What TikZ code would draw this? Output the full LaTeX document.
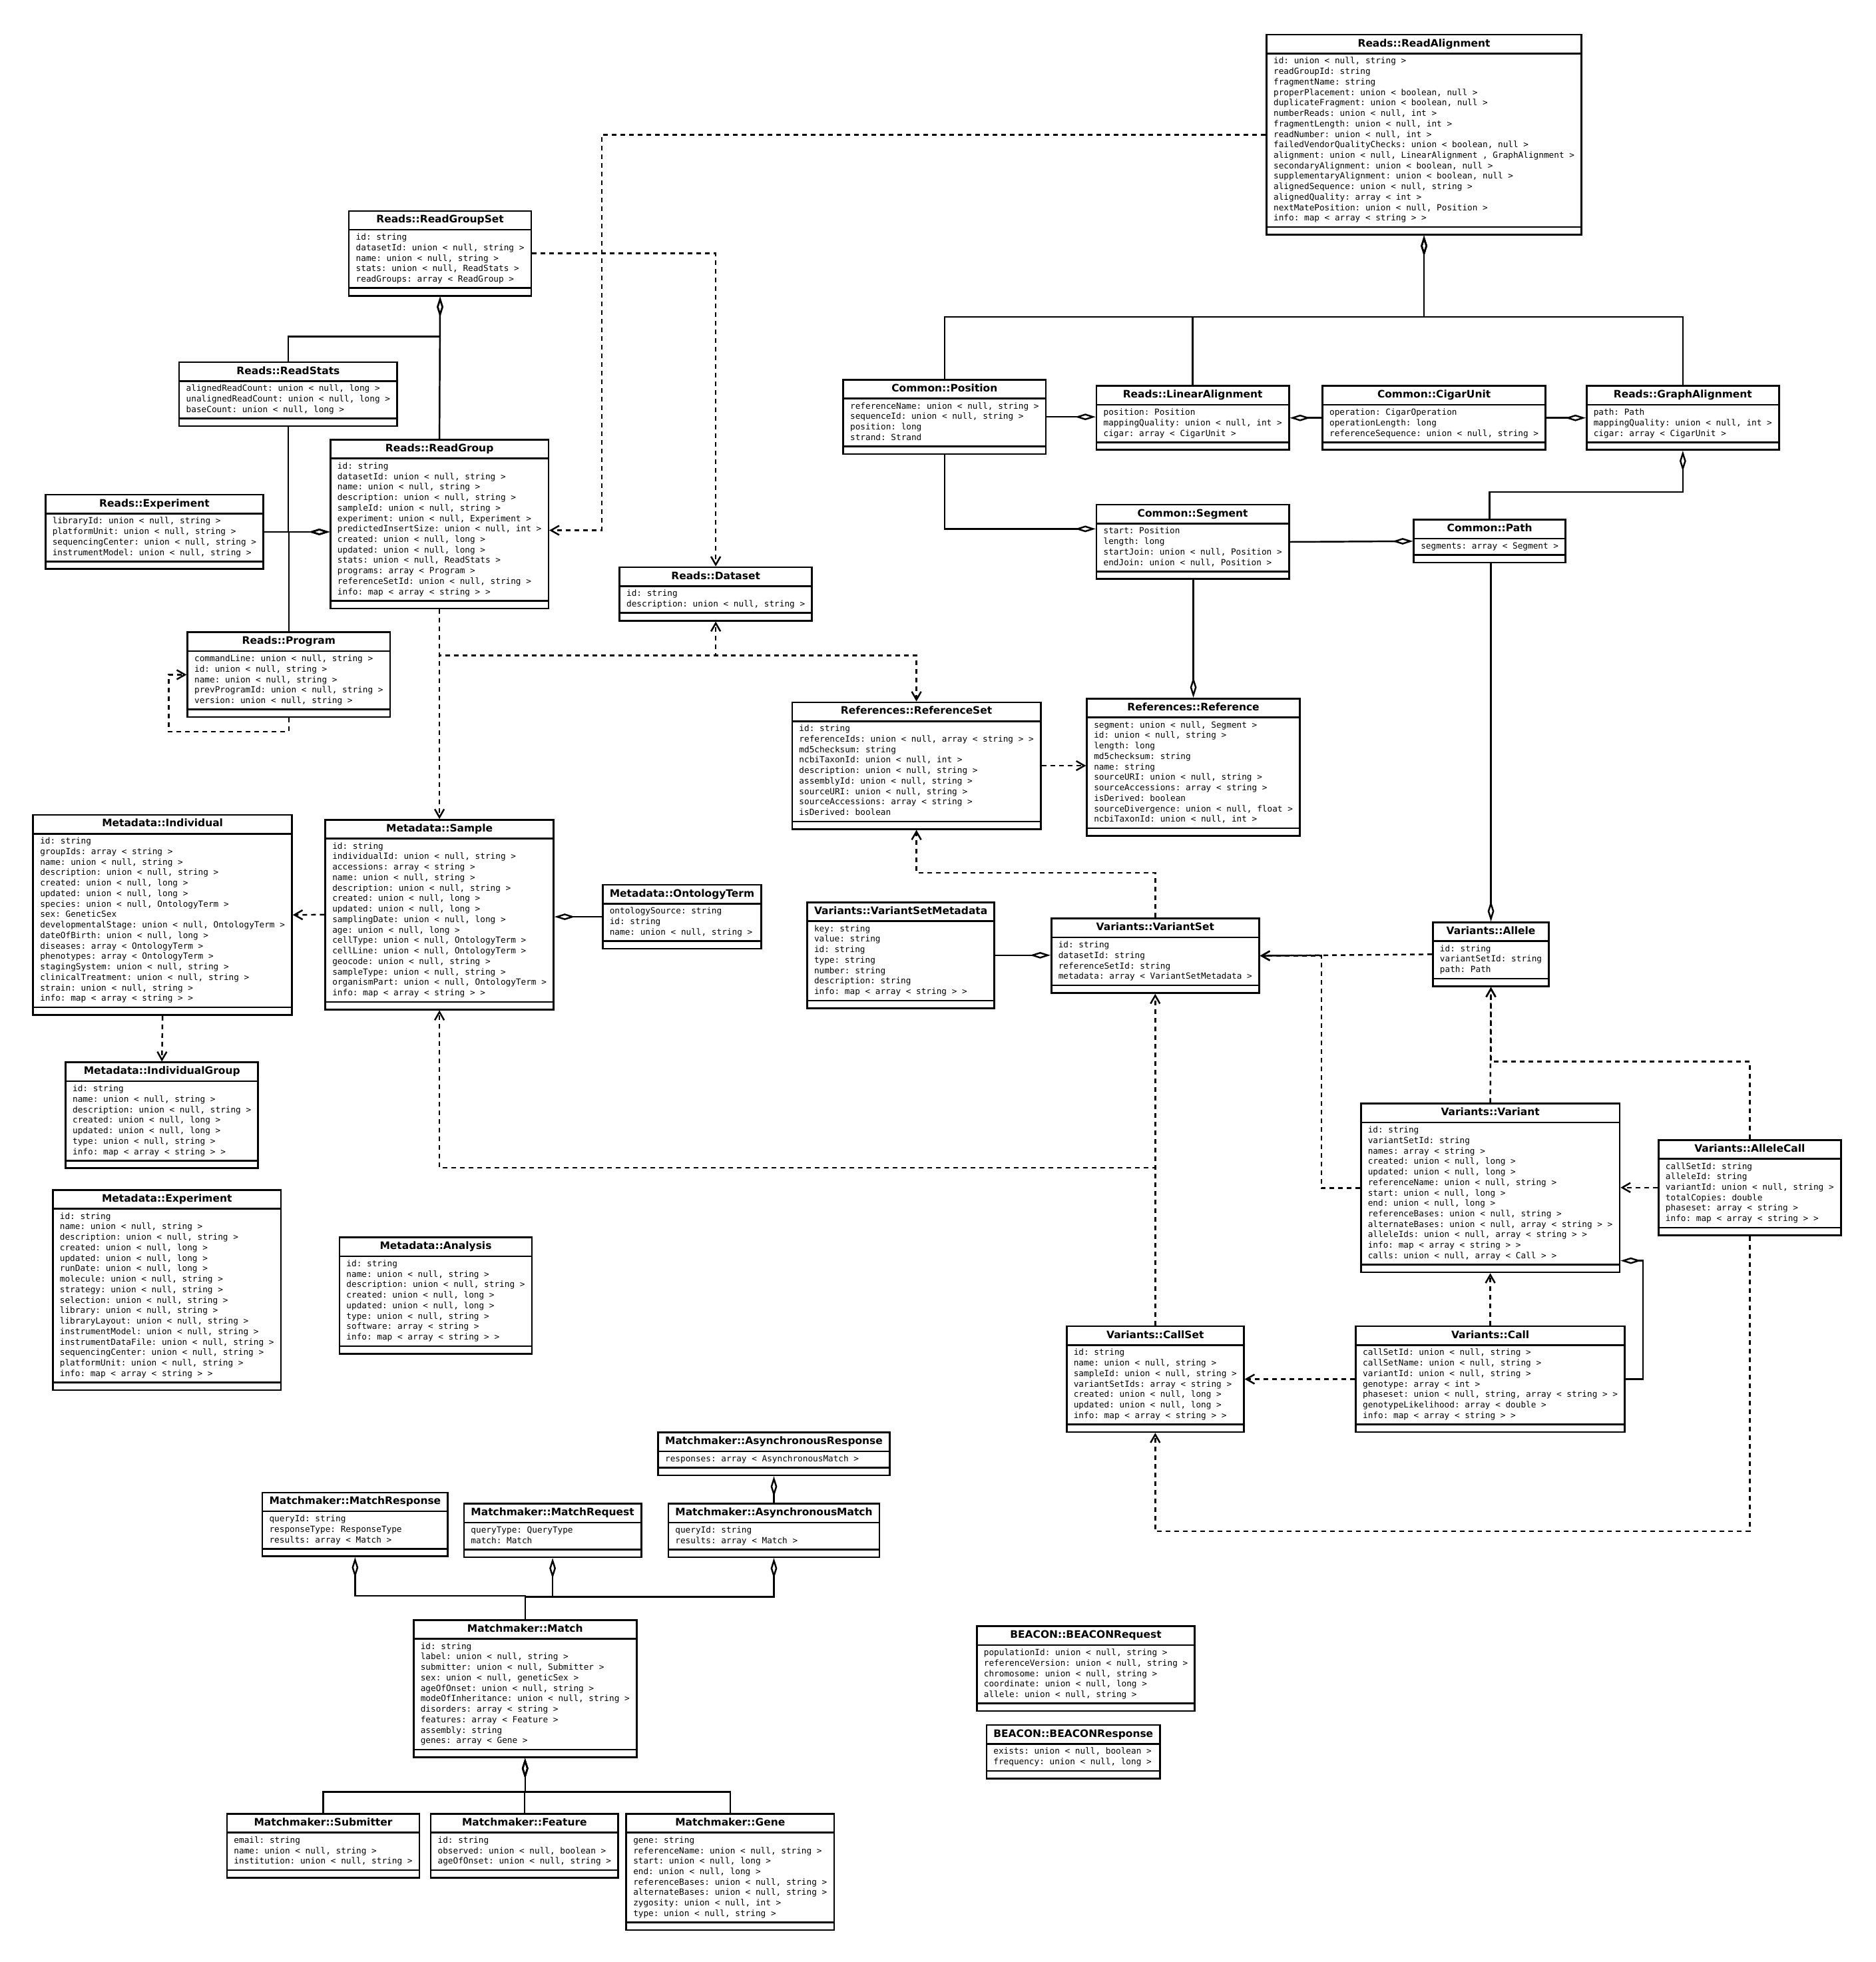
\documentclass[tikz,border=0pt]{standalone}
\usepackage{fontspec}
\setmainfont{DejaVu Sans}
\setmonofont{DejaVu Sans Mono}
\usetikzlibrary{shapes.multipart, arrows.meta, calc}

\newcommand{\classname}[1]{{\bfseries\fontsize{4.4}{5.5}\selectfont\strut#1}}
\newcommand{\classattrs}[1]{{\ttfamily\fontsize{3.62}{4.48}\selectfont\begin{tabular}{@{}l@{}}#1\end{tabular}}}
\newcommand{\noops}{\rule{0pt}{0.7pt}\hspace*{1pt}}

\begin{document}
\begin{tikzpicture}[x=0.01878cm, y=-0.01878cm,
	umlclass/.style={draw, line width=0.75pt, anchor=north, rectangle split, rectangle split parts=3,
		rectangle split part align={center,left,left}, inner xsep=3pt, inner ysep=0.9pt},
	agg/.style={line width=0.7pt, arrows={Diamond[open,length=8.8pt,width=2.8pt]-}},
	dep/.style={line width=0.7pt, dash pattern=on 2pt off 1.7pt, arrows={-Straight Barb[length=3.5pt,width=4pt]}}]
	\path[use as bounding box, fill=white] (0,0) rectangle (1500,1569.2);

	\node[umlclass] (readalign) at (1139,27) {\classname{Reads::ReadAlignment}\nodepart{two}\classattrs{id: union < null, string >\\ readGroupId: string\\ fragmentName: string\\ properPlacement: union < boolean, null >\\ duplicateFragment: union < boolean, null >\\ numberReads: union < null, int >\\ fragmentLength: union < null, int >\\ readNumber: union < null, int >\\ failedVendorQualityChecks: union < boolean, null >\\ alignment: union < null, LinearAlignment , GraphAlignment >\\ secondaryAlignment: union < boolean, null >\\ supplementaryAlignment: union < boolean, null >\\ alignedSequence: union < null, string >\\ alignedQuality: array < int >\\ nextMatePosition: union < null, Position >\\ info: map < array < string > >}\nodepart{three}\noops};
	\node[umlclass] (readgroupset) at (352,168) {\classname{Reads::ReadGroupSet}\nodepart{two}\classattrs{id: string\\ datasetId: union < null, string >\\ name: union < null, string >\\ stats: union < null, ReadStats >\\ readGroups: array < ReadGroup >}\nodepart{three}\noops};
	\node[umlclass] (readstats) at (230.5,289) {\classname{Reads::ReadStats}\nodepart{two}\classattrs{alignedReadCount: union < null, long >\\ unalignedReadCount: union < null, long >\\ baseCount: union < null, long >}\nodepart{three}\noops};
	\node[umlclass] (readgroup) at (351.5,351) {\classname{Reads::ReadGroup}\nodepart{two}\classattrs{id: string\\ datasetId: union < null, string >\\ name: union < null, string >\\ description: union < null, string >\\ sampleId: union < null, string >\\ experiment: union < null, Experiment >\\ predictedInsertSize: union < null, int >\\ created: union < null, long >\\ updated: union < null, long >\\ stats: union < null, ReadStats >\\ programs: array < Program >\\ referenceSetId: union < null, string >\\ info: map < array < string > >}\nodepart{three}\noops};
	\node[umlclass] (experiment) at (123.5,395) {\classname{Reads::Experiment}\nodepart{two}\classattrs{libraryId: union < null, string >\\ platformUnit: union < null, string >\\ sequencingCenter: union < null, string >\\ instrumentModel: union < null, string >}\nodepart{three}\noops};
	\node[umlclass] (program) at (231,505) {\classname{Reads::Program}\nodepart{two}\classattrs{commandLine: union < null, string >\\ id: union < null, string >\\ name: union < null, string >\\ prevProgramId: union < null, string >\\ version: union < null, string >}\nodepart{three}\noops};
	\node[umlclass] (dataset) at (572.5,453) {\classname{Reads::Dataset}\nodepart{two}\classattrs{id: string\\ description: union < null, string >}\nodepart{three}\noops};
	\node[umlclass] (position) at (755.5,303) {\classname{Common::Position}\nodepart{two}\classattrs{referenceName: union < null, string >\\ sequenceId: union < null, string >\\ position: long\\ strand: Strand}\nodepart{three}\noops};
	\node[umlclass] (linalign) at (954,308) {\classname{Reads::LinearAlignment}\nodepart{two}\classattrs{position: Position\\ mappingQuality: union < null, int >\\ cigar: array < CigarUnit >}\nodepart{three}\noops};
	\node[umlclass] (cigarunit) at (1147,308) {\classname{Common::CigarUnit}\nodepart{two}\classattrs{operation: CigarOperation\\ operationLength: long\\ referenceSequence: union < null, string >}\nodepart{three}\noops};
	\node[umlclass] (graphalign) at (1346,308) {\classname{Reads::GraphAlignment}\nodepart{two}\classattrs{path: Path\\ mappingQuality: union < null, int >\\ cigar: array < CigarUnit >}\nodepart{three}\noops};
	\node[umlclass] (segment) at (954,403) {\classname{Common::Segment}\nodepart{two}\classattrs{start: Position\\ length: long\\ startJoin: union < null, Position >\\ endJoin: union < null, Position >}\nodepart{three}\noops};
	\node[umlclass] (path) at (1191.5,415) {\classname{Common::Path}\nodepart{two}\classattrs{segments: array < Segment >}\nodepart{three}\noops};
	\node[umlclass] (referenceset) at (733,561) {\classname{References::ReferenceSet}\nodepart{two}\classattrs{id: string\\ referenceIds: union < null, array < string > >\\ md5checksum: string\\ ncbiTaxonId: union < null, int >\\ description: union < null, string >\\ assemblyId: union < null, string >\\ sourceURI: union < null, string >\\ sourceAccessions: array < string >\\ isDerived: boolean}\nodepart{three}\noops};
	\node[umlclass] (reference) at (954.5,558) {\classname{References::Reference}\nodepart{two}\classattrs{segment: union < null, Segment >\\ id: union < null, string >\\ length: long\\ md5checksum: string\\ name: string\\ sourceURI: union < null, string >\\ sourceAccessions: array < string >\\ isDerived: boolean\\ sourceDivergence: union < null, float >\\ ncbiTaxonId: union < null, int >}\nodepart{three}\noops};
	\node[umlclass] (individual) at (130,651) {\classname{Metadata::Individual}\nodepart{two}\classattrs{id: string\\ groupIds: array < string >\\ name: union < null, string >\\ description: union < null, string >\\ created: union < null, long >\\ updated: union < null, long >\\ species: union < null, OntologyTerm >\\ sex: GeneticSex\\ developmentalStage: union < null, OntologyTerm >\\ dateOfBirth: union < null, long >\\ diseases: array < OntologyTerm >\\ phenotypes: array < OntologyTerm >\\ stagingSystem: union < null, string >\\ clinicalTreatment: union < null, string >\\ strain: union < null, string >\\ info: map < array < string > >}\nodepart{three}\noops};
	\node[umlclass] (sample) at (351.5,655) {\classname{Metadata::Sample}\nodepart{two}\classattrs{id: string\\ individualId: union < null, string >\\ accessions: array < string >\\ name: union < null, string >\\ description: union < null, string >\\ created: union < null, long >\\ updated: union < null, long >\\ samplingDate: union < null, long >\\ age: union < null, long >\\ cellType: union < null, OntologyTerm >\\ cellLine: union < null, OntologyTerm >\\ geocode: union < null, string >\\ sampleType: union < null, string >\\ organismPart: union < null, OntologyTerm >\\ info: map < array < string > >}\nodepart{three}\noops};
	\node[umlclass] (ontology) at (545.5,707) {\classname{Metadata::OntologyTerm}\nodepart{two}\classattrs{ontologySource: string\\ id: string\\ name: union < null, string >}\nodepart{three}\noops};
	\node[umlclass] (indgroup) at (129.5,849) {\classname{Metadata::IndividualGroup}\nodepart{two}\classattrs{id: string\\ name: union < null, string >\\ description: union < null, string >\\ created: union < null, long >\\ updated: union < null, long >\\ type: union < null, string >\\ info: map < array < string > >}\nodepart{three}\noops};
	\node[umlclass] (mexperiment) at (133.5,951) {\classname{Metadata::Experiment}\nodepart{two}\classattrs{id: string\\ name: union < null, string >\\ description: union < null, string >\\ created: union < null, long >\\ updated: union < null, long >\\ runDate: union < null, long >\\ molecule: union < null, string >\\ strategy: union < null, string >\\ selection: union < null, string >\\ library: union < null, string >\\ libraryLayout: union < null, string >\\ instrumentModel: union < null, string >\\ instrumentDataFile: union < null, string >\\ sequencingCenter: union < null, string >\\ platformUnit: union < null, string >\\ info: map < array < string > >}\nodepart{three}\noops};
	\node[umlclass] (analysis) at (348.5,989) {\classname{Metadata::Analysis}\nodepart{two}\classattrs{id: string\\ name: union < null, string >\\ description: union < null, string >\\ created: union < null, long >\\ updated: union < null, long >\\ type: union < null, string >\\ software: array < string >\\ info: map < array < string > >}\nodepart{three}\noops};
	\node[umlclass] (vsmeta) at (720.5,721) {\classname{Variants::VariantSetMetadata}\nodepart{two}\classattrs{key: string\\ value: string\\ id: string\\ type: string\\ number: string\\ description: string\\ info: map < array < string > >}\nodepart{three}\noops};
	\node[umlclass] (variantset) at (924,734) {\classname{Variants::VariantSet}\nodepart{two}\classattrs{id: string\\ datasetId: string\\ referenceSetId: string\\ metadata: array < VariantSetMetadata >}\nodepart{three}\noops};
	\node[umlclass] (allele) at (1192.5,737) {\classname{Variants::Allele}\nodepart{two}\classattrs{id: string\\ variantSetId: string\\ path: Path}\nodepart{three}\noops};
	\node[umlclass] (variant) at (1192,882) {\classname{Variants::Variant}\nodepart{two}\classattrs{id: string\\ variantSetId: string\\ names: array < string >\\ created: union < null, long >\\ updated: union < null, long >\\ referenceName: union < null, string >\\ start: union < null, long >\\ end: union < null, long >\\ referenceBases: union < null, string >\\ alternateBases: union < null, array < string > >\\ alleleIds: union < null, array < string > >\\ info: map < array < string > >\\ calls: union < null, array < Call > >}\nodepart{three}\noops};
	\node[umlclass] (allelecall) at (1399.5,911) {\classname{Variants::AlleleCall}\nodepart{two}\classattrs{callSetId: string\\ alleleId: string\\ variantId: union < null, string >\\ totalCopies: double\\ phaseset: array < string >\\ info: map < array < string > >}\nodepart{three}\noops};
	\node[umlclass] (callset) at (924,1060) {\classname{Variants::CallSet}\nodepart{two}\classattrs{id: string\\ name: union < null, string >\\ sampleId: union < null, string >\\ variantSetIds: array < string >\\ created: union < null, long >\\ updated: union < null, long >\\ info: map < array < string > >}\nodepart{three}\noops};
	\node[umlclass] (call) at (1192,1060) {\classname{Variants::Call}\nodepart{two}\classattrs{callSetId: union < null, string >\\ callSetName: union < null, string >\\ variantId: union < null, string >\\ genotype: array < int >\\ phaseset: union < null, string, array < string > >\\ genotypeLikelihood: array < double >\\ info: map < array < string > >}\nodepart{three}\noops};
	\node[umlclass] (asyncresponse) at (619,1145) {\classname{Matchmaker::AsynchronousResponse}\nodepart{two}\classattrs{responses: array < AsynchronousMatch >}\nodepart{three}\noops};
	\node[umlclass] (matchresponse) at (284,1193) {\classname{Matchmaker::MatchResponse}\nodepart{two}\classattrs{queryId: string\\ responseType: ResponseType\\ results: array < Match >}\nodepart{three}\noops};
	\node[umlclass] (matchrequest) at (442,1202) {\classname{Matchmaker::MatchRequest}\nodepart{two}\classattrs{queryType: QueryType\\ match: Match}\nodepart{three}\noops};
	\node[umlclass] (asyncmatch) at (619,1202) {\classname{Matchmaker::AsynchronousMatch}\nodepart{two}\classattrs{queryId: string\\ results: array < Match >}\nodepart{three}\noops};
	\node[umlclass] (match) at (420,1295) {\classname{Matchmaker::Match}\nodepart{two}\classattrs{id: string\\ label: union < null, string >\\ submitter: union < null, Submitter >\\ sex: union < null, geneticSex >\\ ageOfOnset: union < null, string >\\ modeOfInheritance: union < null, string >\\ disorders: array < string >\\ features: array < Feature >\\ assembly: string\\ genes: array < Gene >}\nodepart{three}\noops};
	\node[umlclass] (submitter) at (258.5,1450) {\classname{Matchmaker::Submitter}\nodepart{two}\classattrs{email: string\\ name: union < null, string >\\ institution: union < null, string >}\nodepart{three}\noops};
	\node[umlclass] (feature) at (419.5,1450) {\classname{Matchmaker::Feature}\nodepart{two}\classattrs{id: string\\ observed: union < null, boolean >\\ ageOfOnset: union < null, string >}\nodepart{three}\noops};
	\node[umlclass] (gene) at (584,1450) {\classname{Matchmaker::Gene}\nodepart{two}\classattrs{gene: string\\ referenceName: union < null, string >\\ start: union < null, long >\\ end: union < null, long >\\ referenceBases: union < null, string >\\ alternateBases: union < null, string >\\ zygosity: union < null, int >\\ type: union < null, string >}\nodepart{three}\noops};
	\node[umlclass] (beaconreq) at (868.5,1300) {\classname{BEACON::BEACONRequest}\nodepart{two}\classattrs{populationId: union < null, string >\\ referenceVersion: union < null, string >\\ chromosome: union < null, string >\\ coordinate: union < null, long >\\ allele: union < null, string >}\nodepart{three}\noops};
	\node[umlclass] (beaconresp) at (858.5,1379) {\classname{BEACON::BEACONResponse}\nodepart{two}\classattrs{exists: union < null, boolean >\\ frequency: union < null, long >}\nodepart{three}\noops};

	\foreach \i in {position,linalign,graphalign} {\draw[agg] (readalign.south) -- ++(0,65) -| (\i.north);}
	\draw[agg] (linalign.west |- position.east) -- (position.east);
	\draw[agg] (linalign.east) -- (cigarunit.west);
	\draw[agg] (graphalign.west) -- (cigarunit.east);
	\draw[agg] ($(segment.north west)+(0,20)$) -| (position.south);
	\draw[agg] (path.west) -- (segment.east);
	\draw[agg] (graphalign.south) -- ++(0,33) -| (path.north);
	\draw[agg] (reference.north) -- (reference.north |- segment.south);
	\draw[agg] (allele.north) -- (allele.north |- path.south);
	\draw[agg] (readgroupset.south) -- (readgroup.north);
	\draw[agg] (readgroupset.south) -- ++(0,32) -| (readstats.north);
	\draw[agg] (readgroup.west |- experiment.east) -- (experiment.east);
	\draw[agg] (readgroup.west |- experiment.east) -| (readstats.south);
	\draw[agg] (readgroup.west |- experiment.east) -| (program.north);
	\draw[agg] (sample.east |- ontology.west) -- (ontology.west);
	\draw[agg] (variantset.west |- vsmeta.east) -- (vsmeta.east);
	\draw[agg] ($(variant.south east)+(0,-10)$) -- ++(18,0) |- (call.east);
	\draw[agg] (asyncresponse.south) -- (asyncmatch.north);
	\foreach \i in {matchresponse,matchrequest,asyncmatch} {\draw[agg] (\i.south) -- ++(0,31) -| (match.north);}
	\foreach \i in {submitter,feature,gene} {\draw[agg] (match.south) -- ++(0,27) -| (\i.north);}

	\draw[dep] (readalign.west) -- ++(-531,0) |- ($(readgroup.east)+(0,5)$);
	\draw[dep] (readgroupset.east) -| (dataset.north);
	\draw[dep] (readgroup.south) -- (sample.north);
	\draw[dep] (readgroup.south) -- ++(0,37) -| (dataset.south);
	\draw[dep] (readgroup.south) -- ++(0,37) -| (referenceset.north);
	\draw[dep] (program.south) -- ++(0,11) -- ++(-96,0) |- (program.west);
	\draw[dep] (referenceset.east) -- (reference.west |- referenceset.east);
	\draw[dep] (variantset.north) -- ++(0,-36) -| (referenceset.south);
	\draw[dep] (sample.west) -- (individual.east);
	\draw[dep] (individual.south) -- (indgroup.north);
	\draw[dep] (callset.north) -- (variantset.south);
	\draw[dep] (callset.north) -- ++(0,-126) -| (sample.south);
	\draw[dep] (allele.west) -- (variantset.east);
	\draw[dep] (variant.west) -- ++(-31,0) |- (variantset.east);
	\draw[dep] (variant.north) -- (allele.south);
	\draw[dep] (allelecall.north) -- ++(0,-62) -| (allele.south);
	\draw[dep] (allelecall.west) -- (variant.east |- allelecall.west);
	\draw[dep] (call.north) -- (variant.south);
	\draw[dep] (call.west) -- (callset.east);
	\draw[dep] (allelecall.south) -- ++(0,236) -| (callset.south);
\end{tikzpicture}
\end{document}
